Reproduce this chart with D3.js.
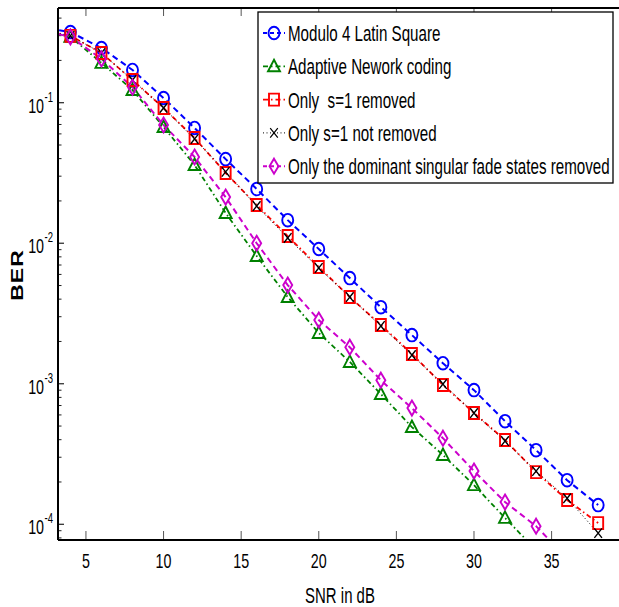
<!DOCTYPE html>
<html>
<head>
<meta charset="utf-8">
<script src="https://cdn.jsdelivr.net/npm/d3@7"></script>
<style>
  body { margin: 0; background: #fff; }
  svg { display: block; font-family: "Liberation Sans", Arial, sans-serif; }
</style>
</head>
<body>
<div id="chart"></div>
<script>
// data
var snr = [2, 4, 6, 8, 10, 12, 14, 16, 18, 20, 22, 24, 26, 28, 30, 32, 34, 36, 38];
var modulo4 = [0.345, 0.318, 0.245, 0.171, 0.108, 0.0661, 0.0397, 0.0243, 0.0146, 0.0091, 0.00565, 0.00351, 0.00222, 0.0014, 0.000901, 0.000542, 0.000337, 0.000206, 0.000137];
var adaptive = [0.329, 0.294, 0.192, 0.123, 0.0672, 0.036, 0.0164, 0.00811, 0.00414, 0.0023, 0.00143, 0.000845, 0.000492, 0.000311, 0.00019, 0.000111, 0.0000656];
var s1Removed = [0.333, 0.299, 0.226, 0.145, 0.0917, 0.0561, 0.0316, 0.0187, 0.01125, 0.00677, 0.00414, 0.00262, 0.00163, 0.00098, 0.000619, 0.000398, 0.000235, 0.000149, 0.000102];
var s1NotRemoved = [0.333, 0.299, 0.226, 0.145, 0.0917, 0.0552, 0.0322, 0.0184, 0.0109, 0.00667, 0.00414, 0.00258, 0.0016, 0.000995, 0.000619, 0.000391, 0.000239, 0.000153, 0.0000865];
var dominant = [0.329, 0.294, 0.205, 0.129, 0.0694, 0.0411, 0.0213, 0.01, 0.00504, 0.00284, 0.00182, 0.00106, 0.000671, 0.00041, 0.000239, 0.000144, 0.000097, 0.000057];

var xTicks = [5, 10, 15, 20, 25, 30, 35];
var yTicks = [1e-1, 1e-2, 1e-3, 1e-4];
var yTickExp = ["-1", "-2", "-3", "-4"];

var series = [
  {name: "Modulo 4 Latin Square", values: modulo4, color: "#0000ff", dash: "6,4", width: 2, marker: "circle"},
  {name: "Adaptive Nework coding", values: adaptive, color: "#008000", dash: "5,3,1.5,3", width: 1.8, marker: "triangle"},
  {name: "Only  s=1 removed", values: s1Removed, color: "#ff0000", dash: "5,3,1.5,3", width: 1.8, marker: "square"},
  {name: "Only s=1 not removed", values: s1NotRemoved, color: "#000000", dash: "1,2.5", width: 1, marker: "x"},
  {name: "Only the dominant singular fade states removed", values: dominant, color: "#cc00cc", dash: "6,4", width: 2, marker: "diamond"}
];

var svgWidth = 619, svgHeight = 607;
var plotLeft = 58, plotRight = 623, plotTop = 8, plotBottom = 540;
var squish = 0.68;

var svg = d3.select("#chart").append("svg").attr("width", svgWidth).attr("height", svgHeight);

var x = d3.scaleLinear().domain([3.2, 39.6]).range([plotLeft, plotRight]);
var y = d3.scaleLog().domain([7.73e-5, 0.472]).range([plotBottom, plotTop]);

function txt(g, tx, ty, s, size, anchor) {
  return g.append("text")
    .attr("transform", `translate(${tx},${ty}) scale(${squish},1)`)
    .attr("font-size", size)
    .attr("text-anchor", anchor)
    .attr("fill", "#000")
    .style("white-space", "pre")
    .text(s);
}

// marker shapes (figure is squished horizontally, so shapes are a bit taller than wide)
function markerPath(type) {
  if (type == "circle") return "M-5.5,0 A5.5,6.3 0 1,0 5.5,0 A5.5,6.3 0 1,0 -5.5,0 Z";
  if (type == "square") return "M-5,-6 L5,-6 L5,6 L-5,6 Z";
  if (type == "triangle") return "M0,-6.5 L6,5 L-6,5 Z";
  if (type == "diamond") return "M0,-7.5 L4.5,0 L0,7.5 L-4.5,0 Z";
  return "M-3.8,-4.8 L3.8,4.8 M-3.8,4.8 L3.8,-4.8";
}

svg.append("defs").append("clipPath").attr("id", "plotclip")
  .append("rect").attr("x", plotLeft).attr("y", plotTop).attr("width", plotRight - plotLeft).attr("height", plotBottom - plotTop);

// ticks
var tickG = svg.append("g");
xTicks.forEach(function(t) {
  tickG.append("line").attr("x1", x(t)).attr("x2", x(t)).attr("y1", plotBottom).attr("y2", plotBottom - 9)
    .attr("stroke", "#555").attr("stroke-width", 1);
  tickG.append("line").attr("x1", x(t)).attr("x2", x(t)).attr("y1", plotTop).attr("y2", plotTop + 8)
    .attr("stroke", "#555").attr("stroke-width", 1);
  txt(tickG, x(t), 568, String(t), 21, "middle");
});

var minor = [];
for (var k = -5; k <= 0; k++) {
  for (var m = 2; m <= 9; m++) {
    var v = m * Math.pow(10, k);
    if (v > y.domain()[0] && v < y.domain()[1]) minor.push(v);
  }
}
minor.forEach(function(v) {
  tickG.append("line").attr("x1", plotLeft).attr("x2", plotLeft + 3.5).attr("y1", y(v)).attr("y2", y(v))
    .attr("stroke", "#222").attr("stroke-width", 1);
});
yTicks.forEach(function(t, i) {
  tickG.append("line").attr("x1", plotLeft).attr("x2", plotLeft + 6).attr("y1", y(t)).attr("y2", y(t))
    .attr("stroke", "#222").attr("stroke-width", 1.2);
  txt(tickG, 44, y(t) + 10, "10", 21, "end");
  txt(tickG, 44.5, y(t) - 1, yTickExp[i], 14, "start");
});

// lines
var lineGen = d3.line().x(d => x(d.x)).y(d => y(d.y));
var plot = svg.append("g").attr("clip-path", "url(#plotclip)");
series.forEach(function(s) {
  s.points = s.values.map((v, i) => ({x: snr[i], y: v}));
  plot.append("path").datum(s.points)
    .attr("d", lineGen)
    .attr("fill", "none")
    .attr("stroke", s.color)
    .attr("stroke-width", s.width)
    .attr("stroke-dasharray", s.dash);
});

// markers
var markG = svg.append("g");
series.forEach(function(s) {
  markG.selectAll(null)
    .data(s.points.filter(d => d.x >= x.domain()[0] && d.y >= y.domain()[0]))
    .enter().append("path")
    .attr("d", markerPath(s.marker))
    .attr("transform", d => `translate(${x(d.x)},${y(d.y)})`)
    .attr("fill", "none")
    .attr("stroke", s.color)
    .attr("stroke-width", s.marker == "x" ? 1.4 : 1.9);
});

// axes box
svg.append("line").attr("x1", plotLeft).attr("x2", plotLeft).attr("y1", plotTop).attr("y2", plotBottom).attr("stroke", "#000").attr("stroke-width", 2);
svg.append("line").attr("x1", plotLeft).attr("x2", svgWidth).attr("y1", plotBottom).attr("y2", plotBottom).attr("stroke", "#000").attr("stroke-width", 2.2);
svg.append("line").attr("x1", plotLeft).attr("x2", svgWidth).attr("y1", plotTop).attr("y2", plotTop).attr("stroke", "#000").attr("stroke-width", 2);

// legend
var leg = svg.append("g");
leg.append("rect").attr("x", 258).attr("y", 12).attr("width", 355).attr("height", 171)
  .attr("fill", "#fff").attr("stroke", "#000").attr("stroke-width", 1.3);
series.forEach(function(s, i) {
  var cy = 33 + i * 33.3;
  leg.append("line").attr("x1", 263).attr("x2", 285).attr("y1", cy).attr("y2", cy)
    .attr("stroke", s.color).attr("stroke-width", s.width).attr("stroke-dasharray", s.dash == "6,4" ? "4,3" : s.dash);
  leg.append("path").attr("d", markerPath(s.marker)).attr("transform", `translate(274,${cy})`)
    .attr("fill", "none").attr("stroke", s.color).attr("stroke-width", s.marker == "x" ? 1.2 : 1.9);
  txt(leg, 288, cy + 8, s.name, 22.3, "start");
});

// axis labels
txt(svg, 340, 603, "SNR in dB", 22, "middle");
svg.append("text")
  .attr("transform", `translate(23,275) scale(${squish},1) rotate(-90)`)
  .attr("font-size", 23)
  .attr("font-weight", "bold")
  .attr("text-anchor", "middle")
  .attr("letter-spacing", 1)
  .text("BER");
</script>
</body>
</html>
